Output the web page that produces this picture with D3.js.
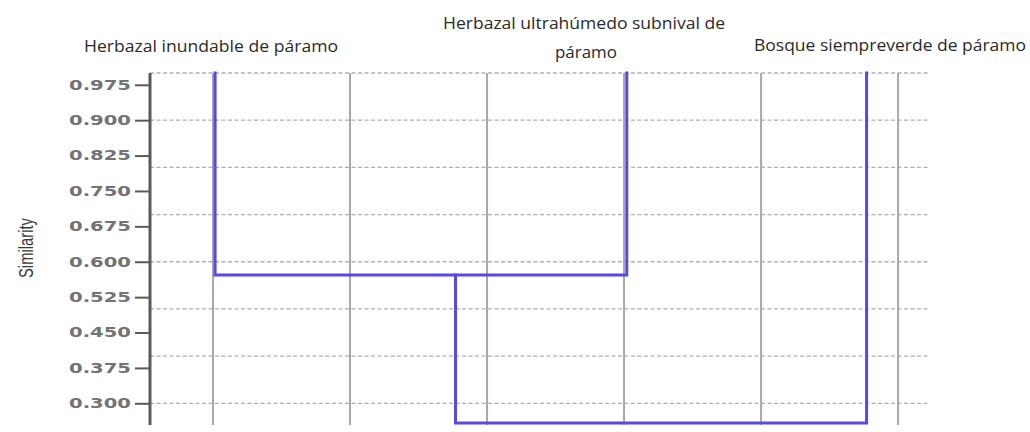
<!DOCTYPE html>
<html>
<head>
<meta charset="utf-8">
<script src="https://cdn.jsdelivr.net/npm/d3@7"></script>
<style>
  html, body { margin: 0; padding: 0; background: #fff; }
  svg { display: block; }
</style>
</head>
<body>
<svg id="chart" width="1030" height="432"></svg>
<script>
// ---- data ----
const leafNames = ["Herbazal inundable de páramo", "Herbazal ultrahúmedo subnival de páramo", "Bosque siempreverde de páramo"];
const leafX = [1.015, 4.02, 5.77];          // leaf positions on the x axis
const joinHeights = [0.572, 0.258];         // similarity of cluster joins
const joinStemX = [2.77];                   // x of the stem of cluster 1
const yTicks = [0.300, 0.375, 0.450, 0.525, 0.600, 0.675, 0.750, 0.825, 0.900, 0.975];
const yGrid = [0.3, 0.4, 0.5, 0.6, 0.7, 0.8, 0.9, 1.0];
const xGrid = [1, 2, 3, 4, 5, 6];
const yLabel = "Similarity";

const svg = d3.select("#chart");
const x = d3.scaleLinear().domain([0.54, 6.233]).range([150, 930]);
const y = d3.scaleLinear().domain([0.254, 1.0]).range([425, 73]);

// horizontal dashed grid
svg.append("g").selectAll("line").data(yGrid).join("line")
  .attr("x1", x(0.54)).attr("x2", x(6.233))
  .attr("y1", d => y(d)).attr("y2", d => y(d))
  .attr("stroke", "#b0b0b0").attr("stroke-width", 1.3)
  .attr("stroke-dasharray", "4,2.5");

// vertical grid
svg.append("g").selectAll("line").data(xGrid).join("line")
  .attr("x1", d => x(d)).attr("x2", d => x(d))
  .attr("y1", y(1.0)).attr("y2", y(0.254))
  .attr("stroke", "#a8a8a8").attr("stroke-width", 2);

// y axis
const axis = d3.axisLeft(y).tickValues(yTicks).tickSize(15).tickPadding(4)
  .tickFormat(d3.format(".3f"));
const gAxis = svg.append("g").attr("transform", "translate(150,0)").call(axis);
gAxis.select(".domain").remove();
gAxis.append("line").attr("x1", 0).attr("x2", 0)
  .attr("y1", y(1.0)).attr("y2", y(0.254))
  .attr("stroke", "#5a5a5a").attr("stroke-width", 3);
gAxis.selectAll(".tick line").attr("stroke", "#5a5a5a").attr("stroke-width", 2);
gAxis.selectAll(".tick text")
  .attr("font-family", "DejaVu Sans").attr("font-weight", "bold")
  .attr("font-size", 13.5).attr("fill", "#737373")
  .attr("textLength", 62).attr("lengthAdjust", "spacingAndGlyphs");

// y axis label
svg.append("text")
  .attr("transform", `translate(33,${248}) rotate(-90)`)
  .attr("text-anchor", "middle")
  .attr("font-family", "Liberation Sans Narrow, Liberation Sans").attr("font-size", 21)
  .attr("fill", "#3a3a3a")
  .attr("textLength", 60).attr("lengthAdjust", "spacingAndGlyphs")
  .text(yLabel);

// dendrogram
const blue = "#5548ee";
const g = svg.append("g").attr("fill", "none").attr("stroke", blue)
  .attr("stroke-width", 3).attr("stroke-linecap", "square");
const h1 = joinHeights[0], h2 = joinHeights[1];
// cluster 1: leaf 0 and leaf 1
g.append("path").attr("d", d3.line()([
  [x(leafX[0]), y(1.0)], [x(leafX[0]), y(h1)], [x(leafX[1]), y(h1)], [x(leafX[1]), y(1.0)]
]));
// root: cluster 1 stem and leaf 2
g.append("path").attr("d", d3.line()([
  [x(joinStemX[0]), y(h1)], [x(joinStemX[0]), y(h2)], [x(leafX[2]), y(h2)], [x(leafX[2]), y(1.0)]
]));

// leaf titles
const titleFont = "Open Sans";
function title(lines, cx, baselines, lengths) {
  lines.forEach((t, i) => {
    svg.append("text").attr("x", cx[i]).attr("y", baselines[i])
      .attr("text-anchor", "middle")
      .attr("font-family", titleFont).attr("font-size", 15.5)
      .attr("fill", "#2a2a2a")
      .attr("textLength", lengths[i]).attr("lengthAdjust", "spacingAndGlyphs")
      .text(t);
  });
}
title([leafNames[0]], [211], [52], [254]);
title(["Herbazal ultrahúmedo subnival de", "páramo"], [584, 586], [29, 58], [282, 62]);
title([leafNames[2]], [890], [51], [272]);
</script>
</body>
</html>
